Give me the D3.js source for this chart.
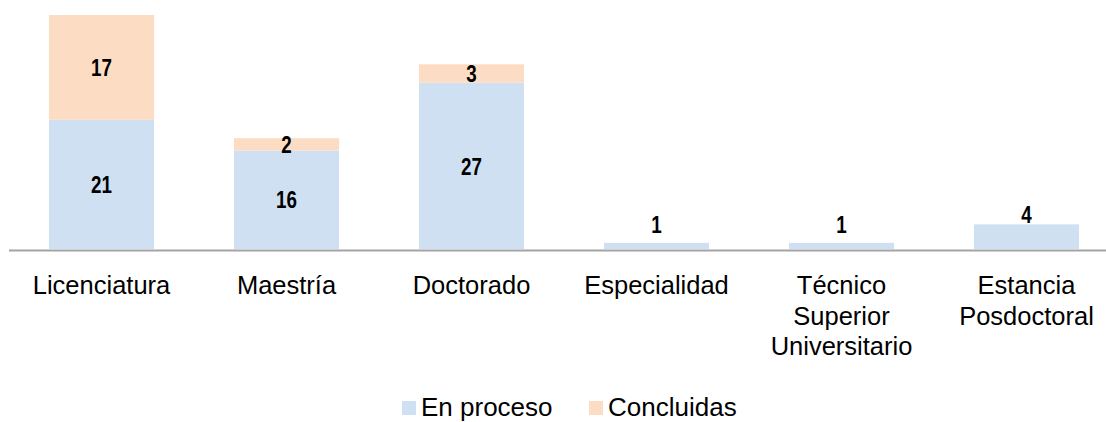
<!DOCTYPE html>
<html>
<head>
<meta charset="utf-8">
<script src="https://cdn.jsdelivr.net/npm/d3@7"></script>
<style>
  body { margin: 0; background: #fff; }
  svg { display: block; }
</style>
</head>
<body>
<div id="chart"></div>
<script>
// Data
var categories = ["Licenciatura", "Maestría", "Doctorado", "Especialidad", "Técnico Superior Universitario", "Estancia Posdoctoral"];
var tickLabels = [["Licenciatura"], ["Maestría"], ["Doctorado"], ["Especialidad"], ["Técnico", "Superior", "Universitario"], ["Estancia", "Posdoctoral"]];
var enProceso = [21, 16, 27, 1, 1, 4];
var concluidas = [17, 2, 3, 0, 0, 0];
var seriesNames = ["En proceso", "Concluidas"];
var seriesColors = ["#cfe0f2", "#fcddc3"];

var width = 1106, height = 422;
var baseline = 249;

var svg = d3.select("#chart")
  .append("svg")
  .attr("width", width)
  .attr("height", height);

// Scales
var x = d3.scaleBand()
  .domain(categories)
  .range([9, 1119])
  .paddingInner(0.432)
  .paddingOuter(0.216);

var y = d3.scaleLinear()
  .domain([0, 38])
  .range([baseline, 15]);

// Stack the two series
var table = categories.map(function(c, i) {
  return { cat: c, "En proceso": enProceso[i], "Concluidas": concluidas[i] };
});
var stacked = d3.stack().keys(seriesNames)(table);

var textFont = "'Liberation Sans', Arial, Helvetica, sans-serif";

// Bars
svg.append("g")
  .selectAll("g")
  .data(stacked)
  .enter().append("g")
  .attr("fill", function(d, i) { return seriesColors[i]; })
  .selectAll("rect")
  .data(function(d) { return d; })
  .enter().append("rect")
  .attr("x", function(d) { return x(d.data.cat); })
  .attr("y", function(d) { return y(d[1]); })
  .attr("width", x.bandwidth())
  .attr("height", function(d) { return y(d[0]) - y(d[1]); });

// Value labels (centered in segment; single-segment bars were nudged up above the bar)
// squeezed horizontally to look like a narrow bold face
stacked.forEach(function(s, si) {
  svg.append("g")
    .selectAll("text")
    .data(s.filter(function(d) { return d[1] - d[0] > 0; }))
    .enter().append("text")
    .attr("transform", function(d) {
      var cx = x(d.data.cat) + x.bandwidth() / 2;
      var cy = (y(d[0]) + y(d[1])) / 2 + 1;
      if (d.data["Concluidas"] === 0) cy -= 22;
      return "translate(" + cx + "," + cy + ") scale(0.8,1)";
    })
    .attr("text-anchor", "middle")
    .attr("dominant-baseline", "central")
    .style("font-family", textFont)
    .style("font-weight", "bold")
    .style("font-size", "23.5px")
    .style("fill", "#000")
    .text(function(d) { return d[1] - d[0]; });
});

// Axis line
svg.append("line")
  .attr("x1", 9)
  .attr("x2", width)
  .attr("y1", baseline + 1.5)
  .attr("y2", baseline + 1.5)
  .attr("stroke", "#a3a3a3")
  .attr("stroke-width", 2.2);

// Category labels
var ticks = svg.append("g")
  .selectAll("text")
  .data(categories)
  .enter().append("text")
  .attr("x", function(d) { return x(d) + x.bandwidth() / 2; })
  .attr("y", 294)
  .attr("text-anchor", "middle")
  .style("font-family", textFont)
  .style("font-size", "25.5px")
  .style("fill", "#000");

ticks.each(function(d, i) {
  var t = d3.select(this);
  tickLabels[i].forEach(function(line, j) {
    t.append("tspan")
      .attr("x", x(d) + x.bandwidth() / 2)
      .attr("dy", j === 0 ? 0 : 30.5)
      .text(line);
  });
});

// Legend
var legendX = [402, 589];
var legend = svg.append("g")
  .selectAll("g")
  .data(seriesNames)
  .enter().append("g")
  .attr("transform", function(d, i) { return "translate(" + legendX[i] + ",401)"; });

legend.append("rect")
  .attr("width", 14)
  .attr("height", 14)
  .attr("fill", function(d, i) { return seriesColors[i]; });

legend.append("text")
  .attr("x", 19)
  .attr("y", 15)
  .style("font-family", textFont)
  .style("font-size", "26px")
  .style("fill", "#000")
  .text(function(d) { return d; });
</script>
</body>
</html>
